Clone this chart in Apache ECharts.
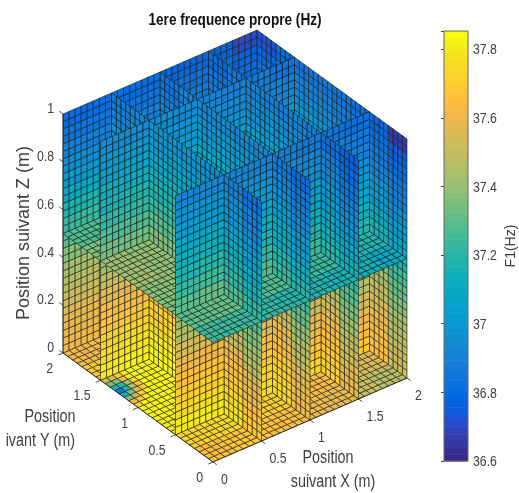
<!DOCTYPE html>
<html><head><meta charset="utf-8">
<style>html,body{margin:0;padding:0;background:#fff}#c{width:519px;height:493px}</style>
<script src="https://cdn.jsdelivr.net/npm/echarts@6/dist/echarts.min.js"></script></head>
<body><div id="c"></div><script>
const titleText='1ere frequence propre (Hz)';
const xPlanes=[0,0.5,1,1.5,2], yPlanes=[0,0.5,1.5,2], zPlanes=[0,0.5,1];
const xTicks=[0,0.5,1,1.5,2], yTicks=[0,0.5,1,1.5,2], zTicks=[0,0.2,0.4,0.6,0.8,1];
const xTickLabels=['0','0.5','1','1.5','2'], yTickLabels=['0','0.5','1','1.5','2'], zTickLabels=['0','0.2','0.4','0.6','0.8','1'];
const barTicks=[36.6,36.8,37,37.2,37.4,37.6,37.8], barTickLabels=['36.6','36.8','37','37.2','37.4','37.6','37.8'];
// F1 (Hz). Rows run from z=1 down, each row covers 2 mesh cells; columns cover 4 mesh cells.
const wallX05=[
[36.82,36.90,36.96,36.98,36.99,36.98,36.94,36.88],[36.88,36.96,37.01,37.03,37.04,37.03,36.99,36.93],
[36.93,37.00,37.05,37.07,37.08,37.07,37.03,36.97],[36.99,37.06,37.11,37.13,37.14,37.13,37.09,37.03],
[37.04,37.11,37.16,37.18,37.19,37.18,37.14,37.08],[37.09,37.16,37.21,37.23,37.24,37.23,37.19,37.13],
[37.15,37.22,37.27,37.29,37.30,37.29,37.25,37.19],[37.21,37.28,37.33,37.35,37.36,37.35,37.31,37.25],
[37.28,37.38,37.42,37.44,37.45,37.44],[37.35,37.45,37.49,37.51,37.52,37.51],
[37.42,37.52,37.56,37.58,37.59,37.58],[37.48,37.58,37.62,37.64,37.65,37.64],
[37.54,37.64,37.68,37.70,37.71,37.70],[37.59,37.69,37.73,37.75,37.76,37.75],
[37.64,37.74,37.78,37.80,37.81,37.80],[37.69,37.79,37.83,37.85,37.85,37.85]];
const wallX10=[
[36.80,36.87,36.92,36.94,36.95,36.94,36.90,36.84],[36.85,36.92,36.97,36.99,37.00,36.99,36.95,36.89],
[36.89,36.96,37.01,37.03,37.04,37.03,36.99,36.93],[36.95,37.02,37.07,37.09,37.10,37.09,37.05,36.99],
[37.00,37.07,37.12,37.14,37.15,37.14,37.10,37.04],[37.05,37.12,37.17,37.19,37.20,37.19,37.15,37.09],
[37.11,37.18,37.23,37.25,37.26,37.25,37.21,37.15],[37.17,37.24,37.29,37.31,37.32,37.31,37.27,37.21],
[37.25,37.35],[37.32,37.43],[37.39,37.51],[37.45,37.58],[37.50,37.63],[37.54,37.68],[37.58,37.72],[37.61,37.75]];
const wallX15=[
[36.76,36.83,36.88,36.90,36.91,36.90,36.86,36.80],[36.81,36.88,36.93,36.95,36.96,36.95,36.91,36.85],
[36.85,36.92,36.97,36.99,37.00,36.99,36.95,36.89],[36.91,36.98,37.03,37.05,37.06,37.05,37.01,36.95],
[36.96,37.03,37.08,37.10,37.11,37.10,37.06,37.00],[37.01,37.08,37.13,37.15,37.16,37.15,37.11,37.05],
[37.07,37.14,37.19,37.21,37.22,37.21,37.17,37.11],[37.13,37.20,37.25,37.27,37.28,37.27,37.23,37.17],
[37.22,37.32],[37.29,37.40],[37.36,37.47],[37.42,37.54],[37.47,37.60],[37.51,37.64],[37.55,37.68],[37.58,37.71]];
const wallX20=[
[36.66,36.78,36.83,36.85,36.86,36.85,36.81,36.72],[36.74,36.83,36.87,36.89,36.91,36.90,36.86,36.78],
[36.80,36.87,36.92,36.94,36.95,36.94,36.90,36.84],[36.86,36.93,36.98,37.00,37.01,37.00,36.96,36.90],
[36.91,36.98,37.03,37.05,37.06,37.05,37.01,36.95],[36.96,37.03,37.08,37.10,37.11,37.10,37.06,37.00],
[37.02,37.09,37.14,37.16,37.17,37.16,37.12,37.06],[37.08,37.15,37.20,37.22,37.23,37.22,37.18,37.12],
[37.18,37.28],[37.25,37.35],[37.32,37.43],[37.38,37.50],[37.43,37.55],[37.47,37.59],[37.50,37.62],[37.52,37.64]];
const wallY05=[
[36.93,36.94,36.93,36.91,36.89,36.87,36.85,36.82],[36.98,36.99,36.98,36.96,36.94,36.92,36.90,36.87],
[37.02,37.03,37.02,37.00,36.98,36.96,36.94,36.91],[37.08,37.09,37.08,37.06,37.04,37.02,37.00,36.97],
[37.13,37.14,37.13,37.11,37.09,37.07,37.05,37.02],[37.18,37.19,37.18,37.16,37.14,37.12,37.10,37.07],
[37.24,37.25,37.24,37.22,37.20,37.18,37.16,37.13],[37.30,37.31,37.30,37.28,37.26,37.24,37.22,37.19],
[37.39,37.40,37.38,37.36,37.34,37.32,37.30,37.27],[37.46,37.47,37.45,37.43,37.41,37.39,37.37,37.34],
[37.53,37.54,37.52,37.50,37.48,37.46,37.44,37.41],[37.59,37.60,37.58,37.56,37.54,37.52,37.50,37.47],
[37.65,37.66,37.64,37.62,37.60,37.58,37.56,37.53],[37.70,37.71,37.69,37.67,37.65,37.63,37.61,37.58],
[37.75,37.76,37.74,37.72,37.70,37.68,37.66,37.63],[37.80,37.81,37.79,37.77,37.75,37.73,37.71,37.68]];
const wallY15=[
[36.96,36.97,36.96,36.94,36.92,36.90,36.88,36.85],[37.01,37.02,37.01,36.99,36.97,36.95,36.93,36.90],
[37.05,37.06,37.05,37.03,37.01,36.99,36.97,36.94],[37.11,37.12,37.11,37.09,37.07,37.05,37.03,37.00],
[37.16,37.17,37.16,37.14,37.12,37.10,37.08,37.05],[37.21,37.22,37.21,37.19,37.17,37.15,37.13,37.10],
[37.27,37.28,37.27,37.25,37.23,37.21,37.19,37.16],[37.33,37.34,37.33,37.31,37.29,37.27,37.25,37.22],
[37.42,37.43],[37.49,37.50],[37.56,37.57],[37.62,37.63],[37.67,37.69],[37.72,37.74],[37.76,37.79],[37.80,37.82]];
const wallY20=[
[36.80,36.80,36.80,36.80,36.79,36.78,36.76,36.70],[36.85,36.85,36.85,36.84,36.83,36.82,36.80,36.76],
[36.91,36.91,36.91,36.90,36.88,36.86,36.84,36.81],[36.97,36.97,36.98,36.96,36.94,36.92,36.90,36.87],
[37.03,37.03,37.03,37.01,36.99,36.97,36.95,36.92],[37.10,37.10,37.08,37.06,37.04,37.02,37.00,36.97],
[37.17,37.17,37.14,37.12,37.10,37.08,37.06,37.03],[37.24,37.24,37.20,37.18,37.16,37.14,37.12,37.09],
[37.30,37.31],[37.37,37.37],[37.43,37.43],[37.48,37.48],[37.52,37.52],[37.56,37.56],[37.59,37.59],[37.61,37.61]];
// horizontal slices: rows from y=0 to y=2, columns from x=0 to x=2
const floorZ0=[
[37.64,37.67,37.66,37.64,37.60,37.58,37.52,37.48],[37.72,37.75,37.72,37.70,37.66,37.63,37.58,37.54],
[37.80,37.83,37.80,37.76,37.72,37.68,37.64,37.60],[37.84,37.85,37.82,37.78,37.74,37.70,37.66,37.62],
[37.83,37.85,37.82,37.78,37.74,37.70,37.66,37.62],[37.82,37.84,37.80,37.76,37.72,37.68,37.64,37.60],
[37.68,37.70,37.66,37.64,37.60,37.58,37.54,37.50],[37.60,37.62,37.60,37.58,37.54,37.52,37.48,37.44]];
const floorZ05=[
[37.23,37.24,37.22,37.20,37.18,37.16,37.14,37.10],[37.30,37.31,37.29,37.27,37.25,37.23,37.21,37.17],
[37.36,37.37,37.35,37.33,37.31,37.29,37.26,37.22],[37.38,37.39,37.37,37.35,37.33,37.30,37.27,37.23],
[37.41,37.40,37.38,37.36,37.33,37.30,37.27,37.23],[37.41,37.40,37.38,37.35,37.32,37.29,37.26,37.22],
[37.36,37.34,37.32,37.30,37.27,37.24,37.21,37.17],[37.28,37.27,37.25,37.23,37.20,37.17,37.14,37.10]];
// dip on the floor slice, one mesh cell each
const spotXCell=[0,0,0,0,0,0,0,0,1,1,1,1,1,1,1,2,2,2,2,2,2,3,3,3];
const spotYCell=[23,22,21,20,19,18,17,16,23,22,21,20,19,18,17,23,22,21,20,19,18,21,20,19];
const spotF=[37.52,37.35,37.15,36.85,37.12,37.38,37.60,37.72,37.55,37.36,37.20,37.17,37.36,37.48,37.66,37.72,37.60,37.42,37.45,37.58,37.68,37.76,37.66,37.72];
const parula=[[.2081,.1663,.5292],[.2116,.1898,.5777],[.2123,.2138,.627],[.2081,.2386,.6771],[.1959,.2645,.7279],[.1707,.2919,.7792],[.1253,.3242,.8303],[.0591,.3598,.8683],[.0117,.3875,.882],[.006,.4086,.8828],[.0165,.4266,.8786],[.0329,.443,.872],[.0498,.4586,.8641],[.0629,.4737,.8554],[.0723,.4887,.8467],[.0779,.504,.8384],[.0793,.52,.8312],[.0749,.5375,.8263],[.0641,.557,.824],[.0488,.5772,.8228],[.0343,.5966,.8199],[.0265,.6137,.8135],[.0239,.6287,.8038],[.0231,.6418,.7913],[.0228,.6535,.7768],[.0267,.6642,.7607],[.0384,.6743,.7436],[.059,.6838,.7254],[.0843,.6928,.7062],[.1133,.7015,.6859],[.1453,.7098,.6646],[.1801,.7177,.6424],[.2178,.725,.6193],[.2586,.7317,.5954],[.3022,.7376,.5712],[.3482,.7424,.5473],[.3953,.7459,.5244],[.442,.7481,.5033],[.4871,.7491,.484],[.53,.7491,.4661],[.5709,.7485,.4494],[.6099,.7473,.4337],[.6473,.7456,.4188],[.6834,.7435,.4044],[.7184,.7411,.3905],[.7525,.7384,.3768],[.7858,.7356,.3633],[.8185,.7327,.3498],[.8507,.7299,.336],[.8824,.7274,.3217],[.9139,.7258,.3063],[.945,.7261,.2886],[.9739,.7314,.2666],[.9938,.7455,.2403],[.999,.7653,.2164],[.9955,.7861,.1967],[.988,.8066,.1794],[.9789,.8271,.1633],[.9697,.8481,.1475],[.9626,.8705,.1309],[.9589,.8949,.1132],[.9598,.9218,.0948],[.9661,.9514,.0755],[.9763,.9831,.0538]];

const fMin=36.6,fMax=37.853,fStep=0.2;
const FONT="'Liberation Sans',Arial,sans-serif";
const TXT='#404040';
const SQUEEZE=0.82;
const css=c=>'rgb('+c.map(v=>Math.round(v*255)).join(',')+')';
const colorOf=v=>css(parula[Math.max(0,Math.min(63,Math.floor((v-fMin)/(fMax-fMin)*64)))]);
// oblique view of the 3D axes, expressed in the hidden 2D axes' units
const project=(x,y,z)=>[97*x-75*y,42*x+54.5*y+239*z];
const CELLS_XY=16,CELLS_Z=32;

const spots={};spotF.forEach((v,i)=>{spots[spotXCell[i]+'_'+spotYCell[i]]=v;});
const wallsX={1:wallX05,2:wallX10,3:wallX15,4:wallX20};
const wallsY={1:wallY05,2:wallY15,3:wallY20};
const cells=[];
for(let xi=3;xi>=0;xi--)for(let yi=2;yi>=0;yi--)for(let zi=0;zi<2;zi++){
  const x0=xPlanes[xi],x1=xPlanes[xi+1],y0=yPlanes[yi],y1=yPlanes[yi+1],z0=zPlanes[zi],z1=zPlanes[zi+1];
  const I0=x0*CELLS_XY,I1=x1*CELLS_XY,J0=y0*CELLS_XY,J1=y1*CELLS_XY,K0=z0*CELLS_Z,K1=z1*CELLS_Z;
  const fl=zi?floorZ05:floorZ0;
  for(let j=J0;j<J1;j++)for(let i=I0;i<I1;i++){
    let v=fl[j>>2][i>>2];
    if(!zi&&spots[i+'_'+j]!==undefined)v=spots[i+'_'+j];
    cells.push([0,i,j,K0,v]);
  }
  const wx=wallsX[xi+1],wy=wallsY[yi+1];
  for(let k=K0;k<K1;k++)for(let j=J0;j<J1;j++){
    const row=wx[(31-k)>>1],v=row[j>>2];
    if(v!==undefined)cells.push([1,I1,j,k,v]);
  }
  for(let k=K0;k<K1;k++)for(let i=I0;i<I1;i++){
    const row=wy[(31-k)>>1],v=row[i>>2];
    if(v!==undefined)cells.push([2,i,J1,k,v]);
  }
}
const cellCorners=(t,a,b,k)=>{
  const X=i=>i/CELLS_XY,Z=i=>i/CELLS_Z;
  if(t===0)return [[a,b,k],[a+1,b,k],[a+1,b+1,k],[a,b+1,k]].map(p=>project(X(p[0]),X(p[1]),Z(p[2])));
  if(t===1)return [[a,b,k],[a,b+1,k],[a,b+1,k+1],[a,b,k+1]].map(p=>project(X(p[0]),X(p[1]),Z(p[2])));
  return [[a,b,k],[a+1,b,k],[a+1,b,k+1],[a,b,k+1]].map(p=>project(X(p[0]),X(p[1]),Z(p[2])));
};
const TICK=0.05;
const axisSegs=[[[0,0,0],[2,0,0]],[[0,0,0],[0,2,0]],[[0,2,0],[0,2,1]]];
xTicks.forEach(v=>axisSegs.push([[v,0,0],[v,-TICK,0]]));
yTicks.forEach(v=>axisSegs.push([[0,v,0],[-TICK,v,0]]));
zTicks.forEach(v=>axisSegs.push([[0,2,v],[0,2+TICK,v]]));
const axisTexts=[];
xTicks.forEach((v,i)=>axisTexts.push([v,0,0,xTickLabels[i],8,18,'left']));
yTicks.forEach((v,i)=>axisTexts.push([0,v,0,yTickLabels[i],-10,16,'right']));
zTicks.forEach((v,i)=>axisTexts.push([0,2,v,zTickLabels[i],-9,-5,'right']));
const levels=parula.map((c,i)=>[i]);
const squeezed=(text,x,y,font,align,extra)=>Object.assign({type:'text',z:20,x,y,scaleX:SQUEEZE,style:{text,font,fill:TXT,textAlign:align,textVerticalAlign:'middle'}},extra||{});

const chart=echarts.init(document.getElementById('c'),null,{renderer:'canvas'});
chart.setOption({
  animation:false,backgroundColor:'#fff',
  grid:[{left:0,top:0,width:519,height:493},{left:444,top:31,width:26,height:430}],
  xAxis:[{type:'value',min:-213,max:306,show:false,gridIndex:0},{type:'value',min:0,max:1,show:false,gridIndex:1}],
  yAxis:[{type:'value',min:-31,max:462,show:false,gridIndex:0},
    {type:'value',gridIndex:1,min:fMin,max:fMax,interval:fStep,position:'right',
     splitLine:{show:false},axisLine:{show:false},
     axisTick:{show:true,inside:true,length:3,lineStyle:{color:'#444',width:1}},
     axisLabel:{show:false},
     name:'F1(Hz)',nameLocation:'middle',nameRotate:90,nameGap:36,
     nameTextStyle:{fontFamily:FONT,fontSize:14,color:TXT}}],
  series:[
   {type:'custom',xAxisIndex:0,yAxisIndex:0,coordinateSystem:'cartesian2d',silent:true,clip:false,progressive:0,animation:false,
    data:cells,encode:{x:[],y:[]},
    renderItem:(p,api)=>{
      const pts=cellCorners(api.value(0),api.value(1),api.value(2),api.value(3)).map(c=>api.coord(c));
      return {type:'polygon',shape:{points:pts},style:{fill:colorOf(api.value(4)),stroke:'#1a1a1a',lineWidth:0.6}};
    }},
   {type:'custom',xAxisIndex:0,yAxisIndex:0,silent:true,clip:false,progressive:0,animation:false,
    data:axisSegs.map((s,i)=>[i]),encode:{x:[],y:[]},
    renderItem:(p,api)=>{
      const s=axisSegs[api.value(0)];
      const a=api.coord(project(...s[0])),b=api.coord(project(...s[1]));
      return {type:'line',shape:{x1:a[0],y1:a[1],x2:b[0],y2:b[1]},style:{stroke:'#262626',lineWidth:0.8}};
    }},
   {type:'custom',xAxisIndex:0,yAxisIndex:0,silent:true,clip:false,progressive:0,animation:false,
    data:axisTexts.map((s,i)=>[i]),encode:{x:[],y:[]},
    renderItem:(p,api)=>{
      const s=axisTexts[api.value(0)];
      const a=api.coord(project(s[0],s[1],s[2]));
      return {type:'text',x:a[0]+s[4],y:a[1]+s[5],scaleX:SQUEEZE,style:{text:s[3],textAlign:s[6],textVerticalAlign:'middle',font:"15px "+FONT,fill:TXT}};
    }},
   {type:'custom',xAxisIndex:1,yAxisIndex:1,silent:true,clip:false,progressive:0,animation:false,z:3,
    data:levels,encode:{x:[],y:[]},
    renderItem:(p,api)=>{
      const i=api.value(0);
      const a=api.coord([0,fMin+(fMax-fMin)*i/64]),b=api.coord([1,fMin+(fMax-fMin)*(i+1)/64]);
      return {type:'rect',shape:{x:a[0],y:b[1],width:b[0]-a[0],height:a[1]-b[1]+0.5},style:{fill:css(parula[i])}};
    }},
   {type:'custom',xAxisIndex:1,yAxisIndex:1,silent:true,clip:false,animation:false,z:4,
    data:[[0]],encode:{x:[],y:[]},
    renderItem:(p,api)=>{
      const a=api.coord([0,fMin]),b=api.coord([1,fMax]);
      return {type:'rect',shape:{x:a[0],y:b[1],width:b[0]-a[0],height:a[1]-b[1]},style:{fill:'none',stroke:'#666',lineWidth:1}};
    }},
   {type:'custom',xAxisIndex:1,yAxisIndex:1,silent:true,clip:false,progressive:0,animation:false,z:4,
    data:barTicks.map((v,i)=>[v,i]),encode:{x:[],y:[]},
    renderItem:(p,api)=>{
      const a=api.coord([1,api.value(0)]);
      return {type:'text',x:a[0]+5,y:a[1]+1,scaleX:SQUEEZE,style:{text:barTickLabels[api.value(1)],textAlign:'left',textVerticalAlign:'middle',font:"15px "+FONT,fill:TXT}};
    }}
  ],
  graphic:[
   Object.assign(squeezed(titleText,235,20,"bold 17px "+FONT,'center'),{scaleX:0.8,style:{text:titleText,font:"bold 17px "+FONT,fill:'#111',textAlign:'center',textVerticalAlign:'middle'}}),
   squeezed('Position',328,458,'17.5px '+FONT,'center'),
   squeezed('suivant X (m)',333,482,'17.5px '+FONT,'center'),
   squeezed('Position',50,417,'17.5px '+FONT,'center'),
   squeezed('suivant Y (m)',75,441,'17.5px '+FONT,'right'),
   {type:'rect',z:21,shape:{x:0,y:425,width:6,height:30},style:{fill:'#fff'}},
   {type:'text',z:20,x:24,y:233,rotation:Math.PI/2,style:{text:'Position suivant Z (m)',font:'18px '+FONT,fill:TXT,textAlign:'center',textVerticalAlign:'middle'}}
  ]
});
</script></body></html>
